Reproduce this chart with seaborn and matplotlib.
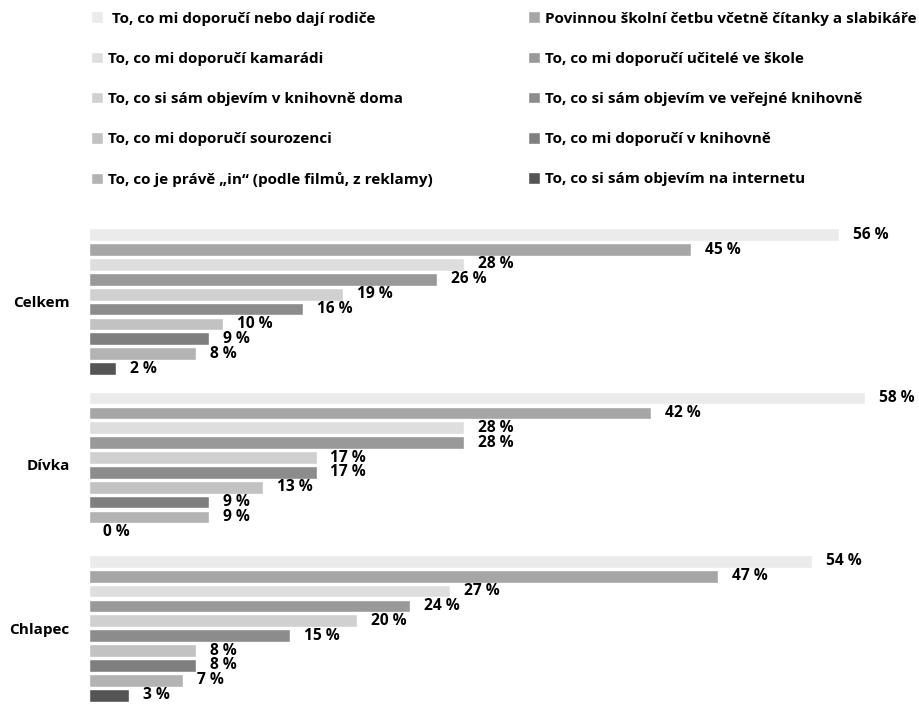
import matplotlib
matplotlib.use('Agg')
import matplotlib.pyplot as plt
import seaborn as sns
import pandas as pd

GROUPS = ['Celkem', 'Dívka', 'Chlapec']

CATEGORIES = [
    ' To, co mi doporučí nebo dají rodiče',
    'Povinnou školní četbu včetně čítanky a slabikáře',
    'To, co mi doporučí kamarádi',
    'To, co mi doporučí učitelé ve škole',
    'To, co si sám objevím v knihovně doma',
    'To, co si sám objevím ve veřejné knihovně',
    'To, co mi doporučí sourozenci',
    'To, co mi doporučí v knihovně',
    'To, co je právě „in“ (podle filmů, z reklamy)',
    'To, co si sám objevím na internetu',
]

# values per category: Celkem, Dívka, Chlapec
VALUES = [
    [56, 58, 54],
    [45, 42, 47],
    [28, 28, 27],
    [26, 28, 24],
    [19, 17, 20],
    [16, 17, 15],
    [10, 13, 8],
    [9, 9, 8],
    [8, 9, 7],
    [2, 0, 3],
]

COLORS = ['#ebebeb', '#a6a6a6', '#dedede', '#999999', '#d0d0d0',
          '#8c8c8c', '#c2c2c2', '#7f7f7f', '#b3b3b3', '#545454']

rows = []
for cat, vals in zip(CATEGORIES, VALUES):
    for grp, v in zip(GROUPS, vals):
        rows.append({'group': grp, 'category': cat, 'value': v})
df = pd.DataFrame(rows)

sns.set_style('white')
plt.rcParams['font.family'] = ['Open Sans', 'DejaVu Sans']
plt.rcParams['font.weight'] = 'bold'
plt.rcParams['text.color'] = 'black'
plt.rcParams['ytick.color'] = 'black'

FS = 11

fig = plt.figure(figsize=(9.19, 7.05), dpi=100)
ax = fig.add_axes([89 / 919, 0, 830 / 919, 485 / 705])

sns.barplot(
    data=df, y='group', x='value', hue='category',
    order=GROUPS, hue_order=CATEGORIES, palette=COLORS,
    orient='h', width=0.91, gap=0.14, saturation=1, ax=ax,
)

for cont in ax.containers:
    ax.bar_label(cont, fmt='{:.0f} %', padding=10, fontsize=11.2,
                 fontweight='bold', color='black')

ax.set_xlim(0, 62)
ax.set_ylim(2.47, -0.5)
ax.set_xlabel('')
ax.set_ylabel('')
ax.set_xticks([])
ax.tick_params(axis='y', length=0, pad=14, labelsize=FS)
for lab in ax.get_yticklabels():
    lab.set_fontweight('bold')
sns.despine(ax=ax, left=True, bottom=True)

handles, labels = ax.get_legend_handles_labels()
ax.get_legend().remove()
for col, x0 in enumerate([80 / 919, 517 / 919]):
    idx = list(range(col, len(handles), 2))
    fig.legend([handles[i] for i in idx], [labels[i] for i in idx],
               loc='upper left', bbox_to_anchor=(x0, 1.0), frameon=False,
               ncol=1, handlelength=0.75, handleheight=0.8,
               handletextpad=0.35, labelspacing=1.7, borderaxespad=0.35,
               prop={'weight': 'bold', 'size': FS})

fig.savefig('out.png', dpi=100)
